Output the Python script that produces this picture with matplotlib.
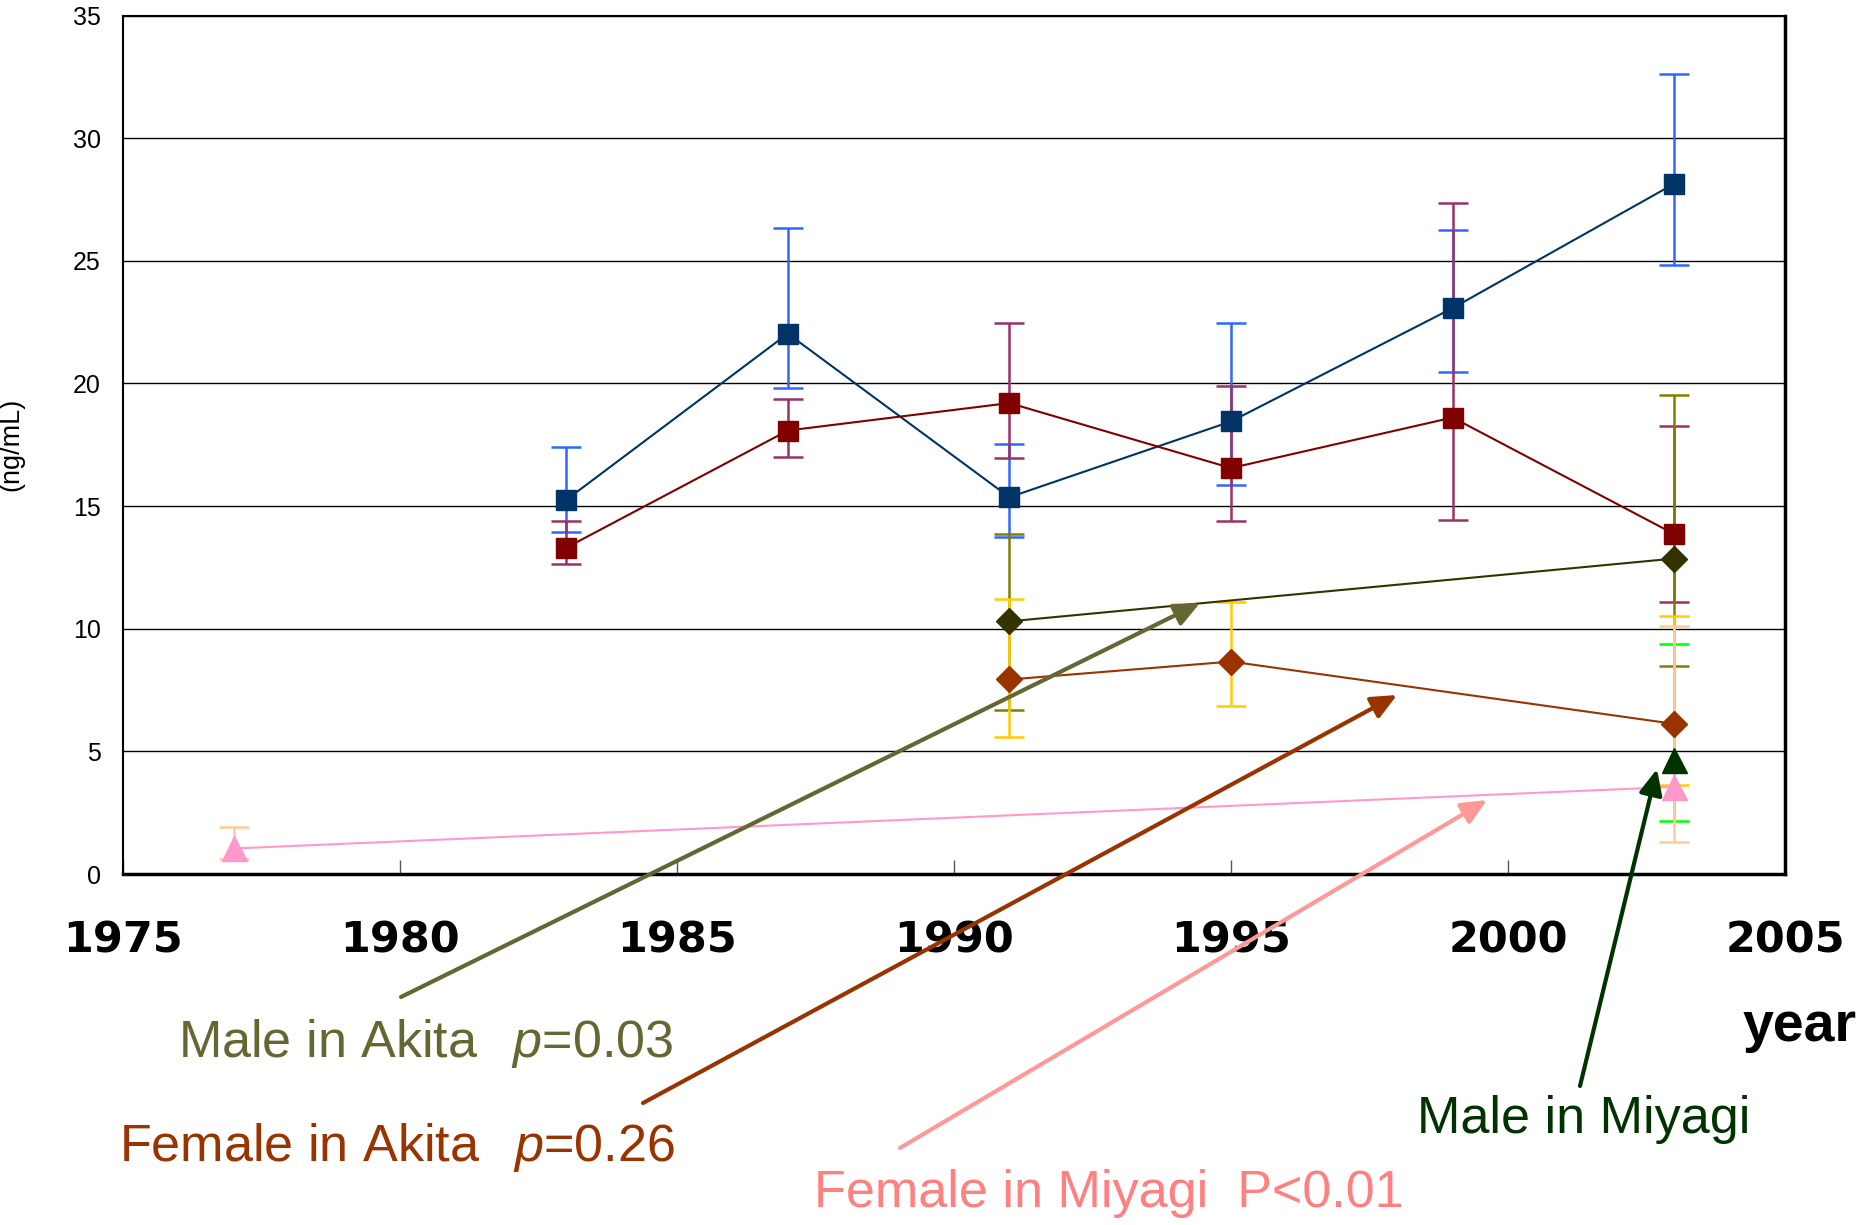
import matplotlib
matplotlib.use("Agg")
import matplotlib.pyplot as plt
import numpy as np

plt.rcParams['font.family'] = ['Liberation Sans', 'DejaVu Sans']
plt.rcParams['mathtext.fontset'] = 'custom'
plt.rcParams['mathtext.it'] = 'Liberation Sans:italic'
plt.rcParams['mathtext.rm'] = 'Liberation Sans'

# ---------------- data ----------------
years_long = [1983, 1987, 1991, 1995, 1999, 2003]
blue_mean = [15.25, 22.03, 15.36, 18.45, 23.07, 28.14]
blue_lo = [13.95, 19.83, 13.74, 15.84, 20.48, 24.81]
blue_hi = [17.40, 26.35, 17.52, 22.45, 26.24, 32.61]

red_mean = [13.30, 18.08, 19.20, 16.55, 18.61, 13.86]
red_lo = [12.62, 17.02, 16.95, 14.38, 14.42, 11.10]
red_hi = [14.38, 19.36, 22.45, 19.88, 27.37, 18.26]

male_akita_years = [1991, 2003]
male_akita_mean = [10.30, 12.86]
male_akita_lo = [6.68, 8.46]
male_akita_hi = [13.85, 19.52]

female_akita_years = [1991, 1995, 2003]
female_akita_mean = [7.93, 8.66, 6.12]
female_akita_lo = [5.59, 6.84, 3.63]
female_akita_hi = [11.23, 11.07, 10.52]

male_miyagi_years = [2003]
male_miyagi_mean = [4.65]
male_miyagi_lo = [2.18]
male_miyagi_hi = [9.36]

female_miyagi_years = [1977, 2003]
female_miyagi_mean = [1.04, 3.55]
female_miyagi_lo = [0.61, 1.31]
female_miyagi_hi = [1.93, 10.10]

x_ticks = [1975, 1980, 1985, 1990, 1995, 2000, 2005]
y_ticks = [0, 5, 10, 15, 20, 25, 30, 35]

# ---------------- figure ----------------
W, H = 1866, 1225
fig = plt.figure(figsize=(W / 100, H / 100), dpi=100)
ax = fig.add_axes([123 / W, (H - 874) / H, (1785 - 123) / W, (874 - 15.5) / H])


def series(x, m, lo, hi, mcolor, ecolor, marker, ms):
    m = np.array(m); lo = np.array(lo); hi = np.array(hi)
    ax.errorbar(x, m, yerr=[m - lo, hi - m], fmt='none', ecolor=ecolor,
                elinewidth=1.8, capsize=11, capthick=1.8, zorder=2)
    ax.plot(x, m, color=mcolor, lw=1.5, marker=marker, ms=ms,
            mfc=mcolor, mec=mcolor, zorder=3)


series(years_long, blue_mean, blue_lo, blue_hi, '#003366', '#3366FF', 's', 14.5)
series(years_long, red_mean, red_lo, red_hi, '#800000', '#993366', 's', 14.5)
series(male_akita_years, male_akita_mean, male_akita_lo, male_akita_hi,
       '#333300', '#808000', 'D', 13.5)
series(female_akita_years, female_akita_mean, female_akita_lo, female_akita_hi,
       '#993300', '#FFCC00', 'D', 13.5)
series(male_miyagi_years, male_miyagi_mean, male_miyagi_lo, male_miyagi_hi,
       '#003300', '#00FF00', '^', 18)
series(female_miyagi_years, female_miyagi_mean, female_miyagi_lo, female_miyagi_hi,
       '#FF99CC', '#FFCC99', '^', 18)

ax.set_xlim(1975, 2005)
ax.set_ylim(0, 35)
ax.set_xticks(x_ticks)
ax.set_yticks(y_ticks)
ax.yaxis.grid(True, color='black', lw=1)
ax.set_axisbelow(True)

for side in ['left', 'top']:
    ax.spines[side].set_linewidth(1.5)
for side in ['bottom', 'right']:
    ax.spines[side].set_linewidth(2.5)
for s in ax.spines.values():
    s.set_color('black')

ax.tick_params(axis='y', length=0, pad=16, labelsize=18)
ax.tick_params(axis='x', direction='in', length=10, width=1, color='#555555',
               pad=33, labelsize=31)
for lbl in ax.get_xticklabels():
    lbl.set_fontweight('bold')
    lbl.set_family(['DejaVu Sans'])

ax.set_ylabel('(ng/mL)', fontsize=19.5)
ax.yaxis.set_label_coords((24 - 123) / (1785 - 123), 0.5)

# ---------------- annotations ----------------
def px(x, y):
    return (x, H - y)


arrows = [
    ((401, 997), (1200, 603), '#666633'),
    ((643, 1103), (1397, 695), '#993300'),
    ((900, 1148), (1487, 800), '#FF9999'),
    ((1580, 1086), (1657, 769), '#003300'),
]
for (tx, ty), (hx, hy), c in arrows:
    ax.annotate('', xy=px(hx, hy), xycoords='figure pixels',
                xytext=px(tx, ty), textcoords='figure pixels',
                annotation_clip=False,
                arrowprops=dict(arrowstyle='-|>,head_length=1.1,head_width=0.5',
                                color=c, lw=3, shrinkA=0, shrinkB=0,
                                mutation_scale=14))


def ftext(x, y, s, color, size, weight='normal'):
    fig.text(x / W, 1 - y / H, s, color=color, fontsize=size, fontweight=weight,
             ha='left', va='center')


ftext(178, 1043, r'Male in Akita  $\,p$=0.03', '#666633', 37.5)
ftext(119, 1148, r'Female in Akita  $\,p$=0.26', '#993300', 37.5)
ftext(814, 1194, 'Female in Miyagi  P<0.01', '#FF8080', 37.5)
ftext(1417, 1119, 'Male in Miyagi', '#003300', 37.5)
ftext(1743, 1027, 'year', 'black', 40, 'bold')

fig.savefig('out.png', dpi=100)
